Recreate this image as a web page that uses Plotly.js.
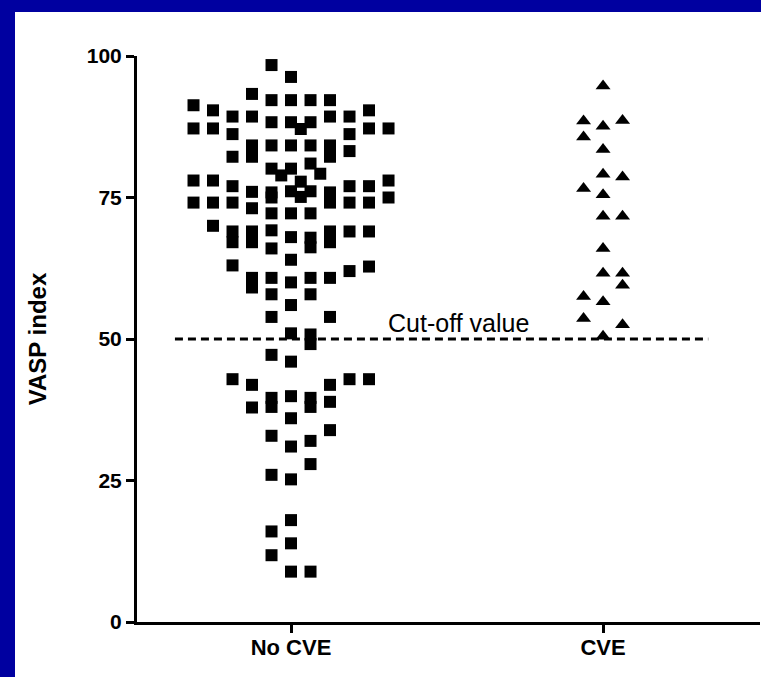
<!DOCTYPE html>
<html>
<head>
<meta charset="utf-8">
<script src="https://cdn.plot.ly/plotly-3.0.1.min.js"></script>
<style>
  html, body { margin: 0; padding: 0; background: #0000a0; width: 761px; height: 677px; overflow: hidden; }
  #chart { position: absolute; left: 15px; top: 12px; width: 746px; height: 665px; background: #ffffff; }
</style>
</head>
<body>
<div id="chart"></div>
<script>
// ---- data ----
const categories = ['No CVE', 'CVE'];
const yTickVals = [0, 25, 50, 75, 100];
const cutOffValue = 50;
const cutOffLabel = 'Cut-off value';
const yAxisTitle = 'VASP index';

// No CVE group: VASP index values and the column slot each marker sits in
const noCveValues = [
  98.4, 96.3, 93.3, 92.2, 92.2, 92.2, 92.2, 91.3, 90.4, 90.4,
  89.3, 89.3, 89.3, 89.3, 88.3, 88.3, 88.3,
  87.2, 87.2, 87.1, 87.2, 87.2, 86.2, 86.2,
  84.2, 82.2, 84.2, 84.2, 84.2, 84.2, 82.2, 83.2, 82.2,
  81.0, 80.1, 80.1, 78.9, 79.2,
  77.8, 76.1, 76.1, 75.1,
  78.0, 78.0, 78.0, 77.0, 77.0, 77.0, 76.0, 75.9, 75.0, 75.9, 74.1,
  74.1, 74.1, 74.1, 74.1, 74.1, 75.0, 73.1, 72.2, 72.2, 72.2,
  70.0, 69.0, 67.1, 69.0, 67.1, 69.2, 68.0, 66.0, 67.9, 66.2, 69.0, 67.1, 69.0, 69.0,
  64.0, 63.0, 62.0, 62.8, 60.8, 59.1, 60.8, 60.0, 60.8, 60.8,
  57.9, 57.9, 56.0, 53.9, 53.9, 51.0, 50.8, 49.1, 47.2, 46.0,
  42.9, 42.9, 42.9, 41.9, 41.9, 39.6, 38.0, 39.9, 39.6, 38.0, 38.9, 37.9,
  36.0, 33.9, 32.9, 32.0, 31.0, 27.9, 26.0, 25.2,
  18.0, 16.0, 13.9, 11.8, 8.9, 8.9
];
const noCveSlots = [
  -1, 0, -2, -1, 0, 1, 2, -5, -4, 4,
  -3, -2, 2, 3, -1, 0, 1,
  -5, -4, 0.5, 4, 5, -3, 3,
  -2, -2, -1, 0, 1, 2, 2, 3, -3,
  1, -1, 0, -0.5, 1.5,
  0.5, 0, 1, 0.5,
  -5, -4, 5, -3, 3, 4, -2, -1, -1, 2, 2,
  -5, -4, -3, 3, 4, 5, -2, -1, 0, 1,
  -4, -3, -3, -2, -2, -1, 0, -1, 1, 1, 2, 2, 3, 4,
  0, -3, 3, 4, -2, -2, -1, 0, 1, 2,
  -1, 1, 0, -1, 2, 0, 1, 1, -1, 0,
  -3, 3, 4, -2, 2, -1, -1, 0, 1, 1, 2, -2,
  0, 2, -1, 1, 0, 1, -1, 0,
  0, -1, 0, -1, 0, 1
];

// CVE group
const cveValues = [
  94.7, 88.5, 88.6, 87.6, 85.7, 83.5, 79.1, 78.6, 76.6, 75.5,
  71.7, 71.7, 66.0, 61.6, 61.6, 59.5, 57.5, 56.6, 53.6, 52.5, 50.5
];
const cveSlots = [
  0, -1, 1, 0, -1, 0, 0, 1, -1, 0,
  0, 1, 0, 0, 1, 1, -1, 0, -1, 1, 0
];

// ---- drawing ----
const slotWidth = 0.0625;
const toX = (catIndex, slots) => slots.map(s => catIndex + s * slotWidth);

const fontFamily = 'Liberation Sans, Arial, Helvetica, sans-serif';

const traces = [
  {
    type: 'scatter', mode: 'markers', name: categories[0],
    x: toX(0, noCveSlots), y: noCveValues,
    marker: { symbol: 'square', size: 12, color: '#000000', line: { width: 0 } },
    cliponaxis: false, hoverinfo: 'y'
  },
  {
    type: 'scatter', mode: 'markers', name: categories[1],
    x: toX(1, cveSlots), y: cveValues,
    marker: { symbol: 'triangle-up', size: 13, color: '#000000', line: { width: 0 } },
    cliponaxis: false, hoverinfo: 'y'
  }
];

const layout = {
  width: 746, height: 665,
  margin: { l: 122, r: 1, t: 44, b: 55 },
  paper_bgcolor: '#ffffff', plot_bgcolor: '#ffffff',
  showlegend: false,
  font: { family: fontFamily, color: '#000000' },
  xaxis: {
    range: [-0.4936, 1.503],
    tickvals: [0, 1], ticktext: categories,
    ticks: 'outside', ticklen: 8, tickwidth: 3, tickcolor: '#000000',
    ticklabelstandoff: -4,
    showline: true, linewidth: 3, linecolor: '#000000',
    showgrid: false, zeroline: false,
    tickfont: { family: fontFamily, size: 22, weight: 700, color: '#000000' }
  },
  yaxis: {
    range: [0, 100],
    tickvals: yTickVals,
    ticks: 'outside', ticklen: 8, tickwidth: 3, tickcolor: '#000000',
    showline: true, linewidth: 3, linecolor: '#000000',
    showgrid: false, zeroline: false,
    tickfont: { family: fontFamily, size: 21, weight: 700, color: '#000000' },
    title: { text: yAxisTitle, standoff: 34, font: { family: fontFamily, size: 24, weight: 700, color: '#000000' } }
  },
  shapes: [
    {
      type: 'line', xref: 'x', yref: 'y',
      x0: -0.372, x1: 1.337, y0: cutOffValue, y1: cutOffValue,
      line: { color: '#000000', width: 3, dash: '8px,5px' }
    }
  ],
  annotations: [
    {
      xref: 'x', yref: 'y', x: 0.303, y: 52.8,
      xanchor: 'left', yanchor: 'middle', showarrow: false,
      text: cutOffLabel,
      font: { family: fontFamily, size: 25, color: '#000000' }
    }
  ]
};

Plotly.newPlot('chart', traces, layout, { displayModeBar: false, staticPlot: true });
</script>
</body>
</html>
